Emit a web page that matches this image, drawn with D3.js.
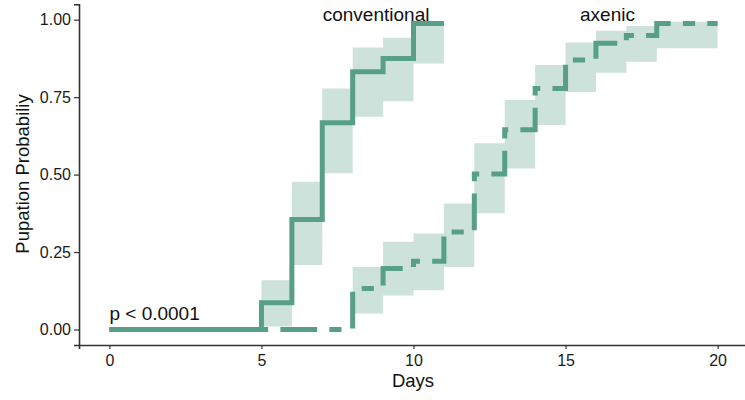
<!DOCTYPE html>
<html>
<head>
<meta charset="utf-8">
<script src="https://cdn.jsdelivr.net/npm/d3@7"></script>
<style>
  html, body { margin: 0; padding: 0; background: #fff; }
  svg { display: block; font-family: "Liberation Sans", Arial, Helvetica, sans-serif; }
</style>
</head>
<body>
<svg id="chart" width="745" height="400"></svg>
<script>
// ---- data ----
const xTicks = [0, 5, 10, 15, 20];
const yTicks = [0, 0.25, 0.5, 0.75, 1];

const convTimes = [0, 5, 6, 7, 8, 9, 10, 11];
const convProb  = [0, 0.086, 0.355, 0.667, 0.832, 0.875, 0.988, 0.988];
const convLower = [0, 0.010, 0.208, 0.504, 0.687, 0.737, 0.859, 0.859];
const convUpper = [0, 0.159, 0.477, 0.778, 0.910, 0.942, 0.995, 0.995];

const axenTimes = [0, 8, 9, 10, 11, 12, 13, 14, 15, 16, 17, 18, 20];
const axenProb  = [0, 0.132, 0.197, 0.220, 0.315, 0.502, 0.645, 0.778, 0.870, 0.924, 0.949, 0.988, 0.988];
const axenLower = [0, 0.052, 0.110, 0.127, 0.202, 0.375, 0.520, 0.660, 0.767, 0.829, 0.864, 0.908, 0.908];
const axenUpper = [0, 0.202, 0.283, 0.310, 0.407, 0.601, 0.741, 0.854, 0.926, 0.964, 0.980, 0.993, 0.993];

const groupLabels = ["conventional", "axenic"];
const groupLabelX = [8.77, 16.38];
const pValueText = "p < 0.0001";

// ---- layout ----
const svg = d3.select("#chart");
const color = "#57a087";
const x = d3.scaleLinear().domain([-1, 21]).range([79, 748]);
const y = d3.scaleLinear().domain([-0.05, 1.05]).range([345, 4.2]);

function toRows(t, p, lo, hi) {
  return t.map((d, i) => ({ t: d, p: p[i], lo: lo[i], hi: hi[i] }));
}
const conv = toRows(convTimes, convProb, convLower, convUpper);
const axen = toRows(axenTimes, axenProb, axenLower, axenUpper);

const area = d3.area().curve(d3.curveStepAfter)
  .x(d => x(d.t)).y0(d => y(d.lo)).y1(d => y(d.hi));
const line = d3.line().curve(d3.curveStepAfter)
  .x(d => x(d.t)).y(d => y(d.p));

const g = svg.append("g");
[conv, axen].forEach(rows => {
  g.append("path").attr("d", area(rows))
    .attr("fill", color).attr("fill-opacity", 0.3).attr("stroke", "none");
});

g.append("path").attr("d", line(axen))
  .attr("fill", "none").attr("stroke", color).attr("stroke-width", 5)
  .attr("stroke-dasharray", "12.2,12.2,36.7,12.2");
g.append("path").attr("d", line(conv))
  .attr("fill", "none").attr("stroke", color).attr("stroke-width", 5);

// axes
const xAxis = d3.axisBottom(x).tickValues(xTicks).tickSizeOuter(0).tickSize(4).tickPadding(6);
const yAxis = d3.axisLeft(y).tickValues(yTicks).tickFormat(d3.format(".2f")).tickSizeOuter(0).tickSize(5).tickPadding(3);

const gx = svg.append("g").attr("transform", "translate(0,345)").call(xAxis);
const gy = svg.append("g").attr("transform", "translate(79,0)").call(yAxis);
[gx, gy].forEach(a => {
  a.select(".domain").attr("stroke", "#333").attr("stroke-width", 1.6);
  a.selectAll(".tick line").attr("stroke", "#333").attr("stroke-width", 1.2);
  a.selectAll(".tick text").attr("fill", "#1a1a1a").style("font-size", "16px")
    .style("font-family", "'Liberation Sans', Arial, sans-serif");
});

// axis titles
svg.append("text").attr("x", 413).attr("y", 387).attr("text-anchor", "middle")
  .style("font-size", "18.5px").attr("fill", "#111").text("Days");
svg.append("text").attr("transform", "translate(29,174) rotate(-90)")
  .attr("text-anchor", "middle").style("font-size", "18.5px").attr("fill", "#111")
  .text("Pupation Probabiliy");

// annotations
groupLabels.forEach((lab, i) => {
  svg.append("text").attr("x", x(groupLabelX[i])).attr("y", 20.5)
    .attr("text-anchor", "middle").style("font-size", "19px").attr("fill", "#111").text(lab);
});
svg.append("text").attr("x", x(0)).attr("y", 319.5)
  .style("font-size", "19px").attr("fill", "#111").text(pValueText);
</script>
</body>
</html>
